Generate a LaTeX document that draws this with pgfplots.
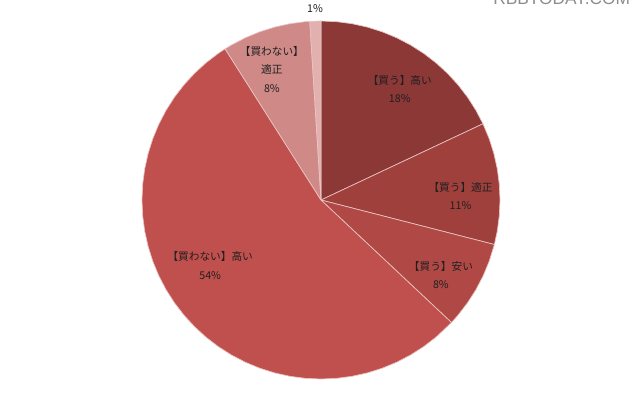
\documentclass[border=0pt]{standalone}
\usepackage{fontspec}
\setmainfont{Noto Sans CJK JP}
\newfontfamily\wmfont{Liberation Sans}
\usepackage{pgfplots}
\pgfplotsset{compat=1.18}
\usepgfplotslibrary{polar}

\definecolor{buyHigh}{RGB}{139,56,54}
\definecolor{buyFair}{RGB}{160,64,61}
\definecolor{buyLow}{RGB}{176,73,70}
\definecolor{noHigh}{RGB}{192,80,77}
\definecolor{noFair}{RGB}{207,138,136}
\definecolor{other}{RGB}{226,176,174}
\definecolor{edge}{RGB}{232,196,194}

\tikzset{lbl/.style={align=center, text=black!88,
    font=\fontsize{8}{14}\selectfont}}

\begin{document}
\begin{tikzpicture}
\useasboundingbox (0,0) rectangle (480pt,300pt);
% watermark, cut at the top edge
\node[anchor=base west, inner sep=0pt, text=black!45, font=\wmfont\fontsize{13}{13}\selectfont]
  at (369.75pt,296.25pt) {RBBTODAY.COM};

% shares: 18, 11, 8, 54, 8, 1 (%) -> clockwise from 12 o'clock
\begin{polaraxis}[
    at={(240.75pt,150pt)}, anchor=origin,
    scale only axis, width=268.5pt, height=268.5pt,
    hide axis, clip=false,
    ymin=0, ymax=1,
    every axis plot/.append style={draw=edge, line width=0.5pt},
]
% 【買う】高い 18%
\addplot[fill=buyHigh] coordinates {
  (0,0) (90,1) (85,1) (80,1) (75,1) (70,1) (65,1) (60,1) (55,1) (50,1)
  (45,1) (40,1) (35,1) (30,1) (25.2,1)} -- cycle;
% 【買う】適正 11%
\addplot[fill=buyFair] coordinates {
  (0,0) (25.2,1) (20,1) (15,1) (10,1) (5,1) (0,1) (-5,1) (-10,1) (-14.4,1)} -- cycle;
% 【買う】安い 8%
\addplot[fill=buyLow] coordinates {
  (0,0) (-14.4,1) (-20,1) (-25,1) (-30,1) (-35,1) (-40,1) (-43.2,1)} -- cycle;
% 【買わない】高い 54%
\addplot[fill=noHigh] coordinates {
  (0,0) (-43.2,1) (-50,1) (-55,1) (-60,1) (-65,1) (-70,1) (-75,1) (-80,1)
  (-85,1) (-90,1) (-95,1) (-100,1) (-105,1) (-110,1) (-115,1) (-120,1)
  (-125,1) (-130,1) (-135,1) (-140,1) (-145,1) (-150,1) (-155,1) (-160,1)
  (-165,1) (-170,1) (-175,1) (-180,1) (-185,1) (-190,1) (-195,1) (-200,1)
  (-205,1) (-210,1) (-215,1) (-220,1) (-225,1) (-230,1) (-235,1) (-237.6,1)} -- cycle;
% 【買わない】適正 8%
\addplot[fill=noFair] coordinates {
  (0,0) (122.4,1) (120,1) (115,1) (110,1) (105,1) (100,1) (95,1) (93.6,1)} -- cycle;
% other 1%
\addplot[fill=other] coordinates {
  (0,0) (93.6,1) (90,1)} -- cycle;

\node[lbl] at (axis cs:54.6,0.76) {【買う】高い\\18\%};
\node[lbl] at (axis cs:1.6,0.78) {【買う】適正\\11\%};
\node[lbl] at (axis cs:-32,0.79) {【買う】安い\\8\%};
\node[lbl] at (axis cs:210.7,0.72) {【買わない】高い\\54\%};
\node[lbl] at (axis cs:110.6,0.78) {【買わない】\\適正\\8\%};
\node[lbl] at (axis cs:91.8,1.07) {1\%};
\end{polaraxis}
\end{tikzpicture}
\end{document}
